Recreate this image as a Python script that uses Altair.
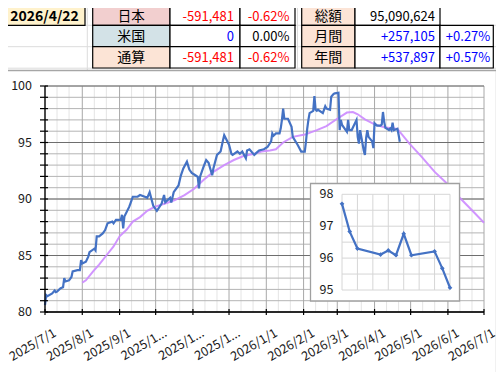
import altair as alt
import pandas as pd

# ---------------- table values ----------------
report_date = "2026/4/22"
region_names = ["日本", "米国", "通算"]
region_amounts = ["-591,481", "0", "-591,481"]
region_pcts = ["-0.62%", "0.00%", "-0.62%"]
summary_names = ["総額", "月間", "年間"]
summary_amounts = ["95,090,624", "+257,105", "+537,897"]
summary_pcts = ["", "+0.27%", "+0.57%"]

# ---------------- main series ----------------
main_dates = [
    "2025-07-01", "2025-07-02", "2025-07-03", "2025-07-07", "2025-07-09", "2025-07-10", "2025-07-11",
    "2025-07-14", "2025-07-16", "2025-07-17", "2025-07-18", "2025-07-21", "2025-07-23", "2025-07-24",
    "2025-07-28", "2025-07-30", "2025-07-31", "2025-08-01", "2025-08-04", "2025-08-06", "2025-08-07",
    "2025-08-11", "2025-08-12", "2025-08-13", "2025-08-15", "2025-08-18", "2025-08-20", "2025-08-22",
    "2025-08-26", "2025-08-27", "2025-08-29", "2025-09-02", "2025-09-03", "2025-09-04", "2025-09-05",
    "2025-09-09", "2025-09-10", "2025-09-11", "2025-09-12", "2025-09-16", "2025-09-18", "2025-09-22",
    "2025-09-24", "2025-09-26", "2025-09-29", "2025-10-02", "2025-10-06", "2025-10-08", "2025-10-09",
    "2025-10-13", "2025-10-14", "2025-10-16", "2025-10-20", "2025-10-22", "2025-10-24", "2025-10-27",
    "2025-10-29", "2025-10-31", "2025-11-03", "2025-11-05", "2025-11-06", "2025-11-07", "2025-11-10",
    "2025-11-12", "2025-11-14", "2025-11-17", "2025-11-18", "2025-11-21", "2025-11-24", "2025-11-26",
    "2025-11-27", "2025-12-01", "2025-12-03", "2025-12-04", "2025-12-08", "2025-12-10", "2025-12-12",
    "2025-12-15", "2025-12-16", "2025-12-18", "2025-12-22", "2025-12-24", "2025-12-26", "2025-12-30",
    "2026-01-02", "2026-01-05", "2026-01-06", "2026-01-07", "2026-01-09", "2026-01-12", "2026-01-13",
    "2026-01-14", "2026-01-15", "2026-01-16", "2026-01-19", "2026-01-22", "2026-01-23", "2026-01-27",
    "2026-01-28", "2026-01-30", "2026-02-02", "2026-02-03", "2026-02-04", "2026-02-05", "2026-02-06",
    "2026-02-09", "2026-02-10", "2026-02-11", "2026-02-12", "2026-02-13", "2026-02-17", "2026-02-19",
    "2026-02-20", "2026-02-23", "2026-02-24", "2026-02-26", "2026-02-27", "2026-03-02", "2026-03-03",
    "2026-03-04", "2026-03-05", "2026-03-09", "2026-03-10", "2026-03-11", "2026-03-13", "2026-03-17",
    "2026-03-18", "2026-03-19", "2026-03-20", "2026-03-23", "2026-03-24", "2026-03-25", "2026-03-26",
    "2026-03-27", "2026-03-30", "2026-03-31", "2026-04-01", "2026-04-03", "2026-04-06", "2026-04-07",
    "2026-04-08", "2026-04-09", "2026-04-10", "2026-04-13", "2026-04-14", "2026-04-15", "2026-04-16",
    "2026-04-17", "2026-04-20", "2026-04-21", "2026-04-22",
]
main_values = [
    80.6, 81.5, 81.4, 81.65, 81.9, 81.75, 81.8,
    82.1, 82.2, 83.0, 82.7, 82.8, 83.1, 83.6,
    83.7, 83.7, 84.6, 84.3, 84.45, 84.9, 85.3,
    85.6, 85.45, 86.7, 86.7, 86.95, 87.25, 87.85,
    88.0, 87.85, 88.15, 88.15, 88.6, 87.4, 88.45,
    89.3, 89.6, 89.9, 90.2, 90.2, 90.35, 90.2,
    90.1, 90.6, 89.4, 88.95, 89.6, 90.35, 89.7,
    90.1, 89.7, 90.6, 91.2, 92.1, 92.7, 93.3,
    92.6, 92.3, 92.1, 91.95, 90.95, 92.0, 92.9,
    93.45, 93.2, 92.1, 92.7, 93.9, 94.2, 95.2,
    95.65, 94.8, 94.0, 93.9, 94.2, 94.0, 94.2,
    93.6, 94.3, 94.4, 93.9, 94.1, 94.3, 94.4,
    94.6, 95.1, 95.8, 95.6, 95.8, 95.8, 96.25,
    97.0, 98.0, 97.1, 97.1, 96.4, 95.5, 94.8,
    94.6, 94.2, 94.2, 95.1, 96.2, 97.0, 97.6,
    97.8, 99.1, 97.9, 97.8, 97.9, 97.6, 98.2,
    98.0, 97.9, 99.05, 99.3, 99.35, 99.4, 96.1,
    97.0, 96.55, 95.95, 97.0, 96.1, 96.1, 97.0,
    95.5, 94.9, 96.1, 94.3, 93.9, 95.4, 96.1,
    95.5, 95.1, 94.5, 96.7, 96.5, 96.5, 96.6,
    97.70, 96.83, 96.30, 96.11, 96.24, 96.09, 96.76,
    96.09, 96.21, 95.68, 95.07,
]

# ---------------- purple trend line ----------------
trend_dates = [
    "2025-08-01", "2025-08-04", "2025-08-10", "2025-08-15", "2025-08-21", "2025-08-27", "2025-09-01",
    "2025-09-07", "2025-09-12", "2025-09-18", "2025-09-24", "2025-09-30", "2025-10-09", "2025-10-17",
    "2025-10-25", "2025-11-02", "2025-11-10", "2025-11-18", "2025-11-27", "2025-12-05", "2025-12-13",
    "2025-12-22", "2025-12-28", "2026-01-04", "2026-01-09", "2026-01-15", "2026-01-23", "2026-02-02",
    "2026-02-12", "2026-02-20", "2026-03-01", "2026-03-09", "2026-03-14", "2026-03-18", "2026-03-24",
    "2026-04-01", "2026-04-09", "2026-04-20", "2026-04-30", "2026-05-10", "2026-05-21", "2026-05-31",
    "2026-06-10", "2026-06-21", "2026-07-01",
]
trend_values = [
    82.6, 82.8, 83.6, 84.2, 85.0, 85.8, 86.7,
    87.3, 88.0, 88.4, 88.95, 89.3, 89.6, 89.9,
    90.35, 90.9, 91.7, 92.4, 93.0, 93.45, 93.8,
    94.0, 94.2, 94.3, 94.4, 95.0, 95.5, 95.7,
    96.1, 96.45, 97.1, 97.65, 97.7, 97.5, 97.05,
    96.6, 96.35, 96.2, 94.9, 93.75, 92.4, 91.4,
    90.2, 89.0, 87.9,
]

axis_start = "2025-07-01"
axis_end = "2026-07-01"
inset_start = "2026-04-08"
inset_end = "2026-04-22"
y_major = [80, 85, 90, 95, 100]
inset_y_labels = [95, 96, 97, 98]

# ---------------- layout (page pixel coordinates) ----------------
PX0, PY0 = 45, 86          # top-left of main plot area on the page
W, H = 439, 226            # main plot area size


def X(p):
    return p - PX0


def Y(p):
    return p - PY0


FONT = "Noto Sans CJK JP"
BLUE = "#4472C4"
PURPLE = "#CC8AFF"
AXIS_TXT = "#1a1a1a"
ONE = pd.DataFrame({"k": [0]})

main_df = pd.DataFrame({"d": main_dates, "v": main_values})
trend_df = pd.DataFrame({"d": trend_dates, "v": trend_values})
inset_df = main_df[main_df["d"] >= inset_start].reset_index(drop=True)

months = pd.date_range(axis_start, axis_end, freq="MS")
month_strs = [m.strftime("%Y-%m-%d") for m in months]
month_labels = ["2025/1..." if (m.year == 2025 and m.month >= 10) else f"{m.year}/{m.month}/1"
                for m in months]
minor_strs = []
for m in months[:-1]:
    for k in (10, 20):
        minor_strs.append((m + pd.Timedelta(days=k)).strftime("%Y-%m-%d"))
unit_vals = list(range(80, 101))


def dt(s):
    t = pd.Timestamp(s)
    return alt.DateTime(year=t.year, month=t.month, date=t.day, utc=True)


xs = alt.Scale(type="utc", domain=[dt(axis_start), dt(axis_end)], nice=False)
ys = alt.Scale(domain=[80, 100], nice=False, zero=False)
XE = dict(scale=xs, axis=None)
YE = dict(scale=ys, axis=None)


# ---- main chart layers ----
def vrules(dates, color, width, y1=0, y2=H):
    return alt.Chart(pd.DataFrame({"d": dates})).mark_rule(color=color, strokeWidth=width).encode(
        x=alt.X("d:T", **XE), y=alt.value(y1), y2=alt.value(y2))


def hrules(vals, color, width, x1=0, x2=W):
    return alt.Chart(pd.DataFrame({"v": vals})).mark_rule(color=color, strokeWidth=width).encode(
        y=alt.Y("v:Q", **YE), x=alt.value(x1), x2=alt.value(x2))


grid_minor_v = vrules(minor_strs, "#E4E4E4", 1)
grid_unit_h = hrules(unit_vals, "#B4B4B4", 1)
grid_month_v = vrules(month_strs, "#A8A8A8", 1)
grid_major_h = hrules(y_major, "#6E6E6E", 1)

trend_line = alt.Chart(trend_df).mark_line(color=PURPLE, strokeWidth=2, opacity=0.9).encode(
    x=alt.X("d:T", **XE), y=alt.Y("v:Q", **YE))
main_line = alt.Chart(main_df).mark_line(color=BLUE, strokeWidth=2.2).encode(
    x=alt.X("d:T", **XE), y=alt.Y("v:Q", **YE))

x_domain = alt.Chart(ONE).mark_rule(color="#000", strokeWidth=1.3).encode(
    x=alt.value(0), x2=alt.value(W), y=alt.value(H))
y_domain = alt.Chart(ONE).mark_rule(color="#000", strokeWidth=1.3).encode(
    x=alt.value(0), y=alt.value(0), y2=alt.value(H))
x_ticks = vrules(month_strs, "#000", 1.2, H - 3, H + 3)
y_ticks = hrules(unit_vals, "#000", 1.2, -5, 3)

# dx/dy act in the rotated frame: this places the label end ~(10, 20) px from the tick foot
x_labels = alt.Chart(pd.DataFrame({"d": month_strs, "t": month_labels})).mark_text(
    angle=330, align="right", baseline="middle", dx=-1.3, dy=22.3, font=FONT, fontSize=12.5,
    color=AXIS_TXT).encode(x=alt.X("d:T", **XE), y=alt.value(H), text="t:N")
y_labels = alt.Chart(pd.DataFrame({"v": y_major})).mark_text(
    align="right", baseline="middle", font=FONT, fontSize=12.5, color=AXIS_TXT).encode(
    y=alt.Y("v:Q", **YE), x=alt.value(-13), text="v:Q")

main_chart = alt.layer(grid_minor_v, grid_unit_h, grid_month_v, grid_major_h,
                       trend_line, main_line, x_domain, y_domain, x_ticks, y_ticks,
                       x_labels, y_labels)

# ---- inset ----
xi = alt.Scale(type="utc", domain=[dt(inset_start), dt(inset_end)], range=[X(342), X(450)], nice=False)
yi = alt.Scale(domain=[95, 98], range=[Y(290), Y(194.3)], nice=False, zero=False)

inset_box = alt.Chart(ONE).mark_rect(fill="white", stroke="#A0A0A0", strokeWidth=1.3).encode(
    x=alt.value(X(310.5)), x2=alt.value(X(459.5)), y=alt.value(Y(183.5)), y2=alt.value(Y(301)))
inset_grid_dates = pd.date_range(inset_start, inset_end, freq="2D").strftime("%Y-%m-%d").tolist()
inset_grid_vals = [95 + 0.5 * i for i in range(7)]
inset_vgrid = alt.Chart(pd.DataFrame({"d": inset_grid_dates})).mark_rule(color="#D6D6D6", strokeWidth=1).encode(
    x=alt.X("d:T", scale=xi, axis=None), y=alt.value(Y(194.3)), y2=alt.value(Y(290)))
inset_hgrid = alt.Chart(pd.DataFrame({"v": inset_grid_vals})).mark_rule(color="#D6D6D6", strokeWidth=1).encode(
    y=alt.Y("v:Q", scale=yi, axis=None), x=alt.value(X(342)), x2=alt.value(X(450)))
inset_labels = alt.Chart(pd.DataFrame({"v": inset_y_labels})).mark_text(
    align="right", baseline="middle", font=FONT, fontSize=12.5, color=AXIS_TXT).encode(
    y=alt.Y("v:Q", scale=yi, axis=None), x=alt.value(X(333.5)), text="v:Q")
inset_line = alt.Chart(inset_df).mark_line(color=BLUE, strokeWidth=2.2).encode(
    x=alt.X("d:T", scale=xi, axis=None), y=alt.Y("v:Q", scale=yi, axis=None))
inset_pts = alt.Chart(inset_df).mark_point(shape="diamond", filled=True, size=22, color=BLUE, opacity=1).encode(
    x=alt.X("d:T", scale=xi, axis=None), y=alt.Y("v:Q", scale=yi, axis=None))

inset_chart = alt.layer(inset_box, inset_vgrid, inset_hgrid, inset_labels, inset_line, inset_pts)


# ---- page background, table and chart box ----
def rect(x1, y1, x2, y2, fill, stroke=None, sw=1.0):
    kw = dict(fill=fill)
    if stroke:
        kw.update(stroke=stroke, strokeWidth=sw)
    return alt.Chart(ONE).mark_rect(**kw).encode(
        x=alt.value(X(x1)), x2=alt.value(X(x2)), y=alt.value(Y(y1)), y2=alt.value(Y(y2)))


def hline(y, x1, x2, color="#DCDCDC"):
    return alt.Chart(ONE).mark_rule(color=color, strokeWidth=1).encode(
        x=alt.value(X(x1)), x2=alt.value(X(x2)), y=alt.value(Y(y)))


def vline(x, y1, y2, color="#DCDCDC"):
    return alt.Chart(ONE).mark_rule(color=color, strokeWidth=1).encode(
        x=alt.value(X(x)), y=alt.value(Y(y1)), y2=alt.value(Y(y2)))


def label(s, x, y, align, color="#000", size=13, bold=False):
    return alt.Chart(pd.DataFrame({"t": [s]})).mark_text(
        align=align, baseline="middle", font=FONT, fontSize=size,
        fontWeight="bold" if bold else "normal", color=color).encode(
        x=alt.value(X(x)), y=alt.value(Y(y)), text="t:N")


def val_color(s, zero_blue=True):
    if s.startswith("-"):
        return "#FF0000"
    if s.startswith("+"):
        return "#0000FF"
    return "#0000FF" if (zero_blue and s == "0") else "#000000"


bg = [hline(25.3, 0, 504), hline(46.7, 0, 504), hline(68.2, 0, 504),
      vline(87.3, 0, 70), vline(297.5, 0, 70)]

rows = [4, 25.3, 46.7, 68]
text_y = [17.0, 36.5, 57.8]
c2 = [92.7, 170, 240, 295]
c3 = [301.7, 355, 440, 493.3]
region_fills = ["#F2CFCF", "#D3E2E7", "#FCE4D6"]
summary_fill = "#FCE4D6"

table = [rect(3.3, 4, 85, 25.3, "#FFF2CC", "#000", 1.2),
         label(report_date, 44.5, 17.0, "center", "#000", 14, True)]
for i in range(3):
    y1, y2 = rows[i], rows[i + 1]
    yc = text_y[i]
    fs_lab = 13.5 if i == 0 else 14
    table.append(rect(c2[0], y1, c2[1], y2, region_fills[i], "#000", 1.2))
    table.append(rect(c2[1], y1, c2[2], y2, "white", "#000", 1.2))
    table.append(rect(c2[2], y1, c2[3], y2, "white", "#000", 1.2))
    table.append(label(region_names[i], (c2[0] + c2[1]) / 2, yc, "center", "#000", fs_lab))
    table.append(label(region_amounts[i], c2[2] - 6, yc, "right", val_color(region_amounts[i])))
    table.append(label(region_pcts[i], c2[3] - 5.5, yc, "right", val_color(region_pcts[i], False)))

    table.append(rect(c3[0], y1, c3[1], y2, summary_fill, "#000", 1.2))
    table.append(rect(c3[1], y1, c3[2], y2, "white", "#000", 1.2))
    if summary_pcts[i]:
        table.append(rect(c3[2], y1, c3[3], y2, "white", "#000", 1.2))
        table.append(label(summary_pcts[i], c3[3] - 3, yc, "right", val_color(summary_pcts[i])))
    table.append(label(summary_names[i], (c3[0] + c3[1]) / 2, yc, "center", "#000", fs_lab))
    table.append(label(summary_amounts[i], c3[2] - 5, yc, "right",
                       "#000" if i == 0 else val_color(summary_amounts[i])))

chart_box = rect(4, 70.5, 496.5, 374, "white", "#A6A6A6", 1.3)

chart = alt.layer(*bg, *table, chart_box, main_chart, inset_chart).resolve_scale(
    x="independent", y="independent"
).properties(
    width=W, height=H,
    padding={"left": PX0 - 8, "top": PY0 - 8, "right": 496 - (PX0 + W), "bottom": 372 - (PY0 + H)},
    autosize=alt.AutoSizeParams(type="none"),
    background="white",
).configure_view(stroke=None)

chart.save("out.html", embed_options={"renderer": "svg", "actions": False})
